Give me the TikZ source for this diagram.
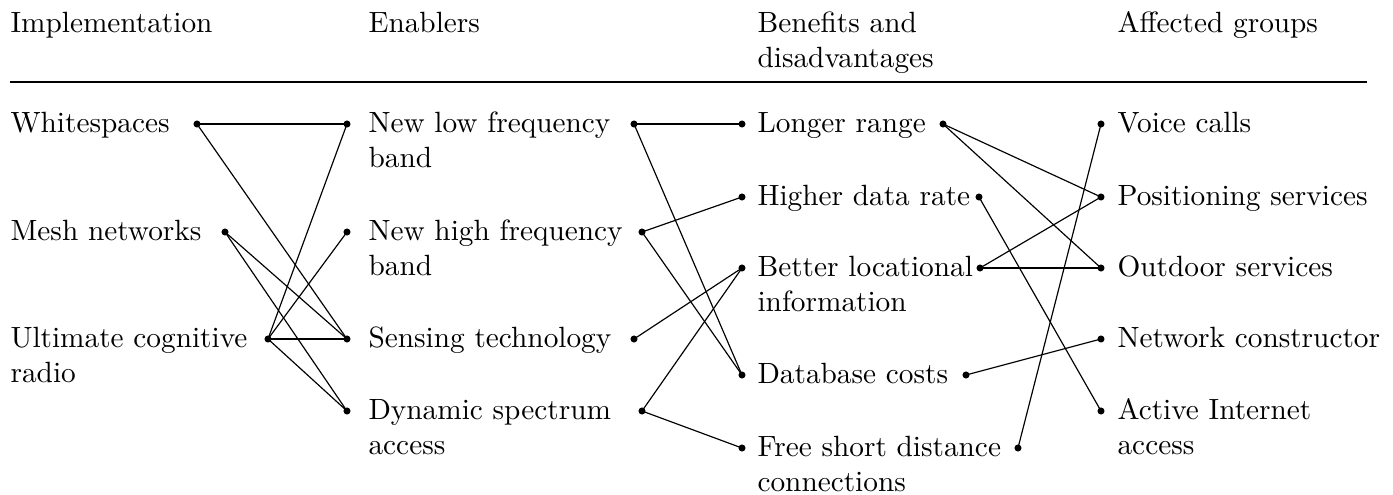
\documentclass[tikz,border=0pt]{standalone}
\begin{document}
\begin{tikzpicture}[x=0.3413pt,y=-0.3413pt,
  dot/.style={circle,fill=black,inner sep=0pt,minimum size=2.4pt},
  lbl/.style={anchor=base west,inner sep=0pt},
  conn/.style={line width=0.4pt},
  hrule/.style={line width=0.5pt}]
\useasboundingbox (0,0) rectangle (1393,495);
\newcommand{\cell}[1]{\begin{tabular}[t]{@{}l@{}}#1\end{tabular}}
% headers
\node[lbl] (h1) at (10,32) {Implementation};
\node[lbl] (h2) at (368,32) {Enablers};
\node[lbl] (h3) at (757,32) {\cell{Benefits and\\disadvantages}};
\node[lbl] (h4) at (1117,32) {Affected groups};
\coordinate (rl) at (10,82);
\coordinate (rr) at (1367,82);
\draw[hrule] (rl) -- (rr);
% column 1
\node[lbl] (t11) at (10,132.5) {Whitespaces};
\node[lbl] (t12) at (10,240.5) {Mesh networks};
\node[lbl] (t13) at (10,347.5) {\cell{Ultimate cognitive\\radio}};
\node[dot] (a1) at (197,124) {};
\node[dot] (a2) at (225,232) {};
\node[dot] (a3) at (268,339) {};
% column 2
\node[lbl] (t21) at (368,132.5) {\cell{New low frequency\\band}};
\node[lbl] (t22) at (368,240.5) {\cell{New high frequency\\band}};
\node[lbl] (t23) at (368,347.5) {Sensing technology};
\node[lbl] (t24) at (368,419.5) {\cell{Dynamic spectrum\\access}};
\node[dot] (bl1) at (347,124) {};
\node[dot] (bl2) at (347,232) {};
\node[dot] (bl3) at (347,339) {};
\node[dot] (bl4) at (347,411) {};
\node[dot] (br1) at (634,124) {};
\node[dot] (br2) at (642,232) {};
\node[dot] (br3) at (634,339) {};
\node[dot] (br4) at (642,411) {};
% column 3
\node[lbl] (t31) at (757,132.5) {Longer range};
\node[lbl] (t32) at (757,205.5) {Higher data rate};
\node[lbl] (t33) at (757,276.5) {\cell{Better locational\\information}};
\node[lbl] (t34) at (757,383.5) {Database costs};
\node[lbl] (t35) at (757,456.5) {\cell{Free short distance\\connections}};
\node[dot] (cl1) at (742,124) {};
\node[dot] (cl2) at (742,197) {};
\node[dot] (cl3) at (742,268) {};
\node[dot] (cl4) at (742,375) {};
\node[dot] (cl5) at (742,448) {};
\node[dot] (cr1) at (943,124) {};
\node[dot] (cr2) at (979,197) {};
\node[dot] (cr3) at (980,268) {};
\node[dot] (cr4) at (966,375) {};
\node[dot] (cr5) at (1018,448) {};
% column 4
\node[lbl] (t41) at (1117,132.5) {Voice calls};
\node[lbl] (t42) at (1117,205.5) {Positioning services};
\node[lbl] (t43) at (1117,276.5) {Outdoor services};
\node[lbl] (t44) at (1117,347.5) {Network constructor};
\node[lbl] (t45) at (1117,419.5) {\cell{Active Internet\\access}};
\node[dot] (d1) at (1101,124) {};
\node[dot] (d2) at (1101,197) {};
\node[dot] (d3) at (1101,268) {};
\node[dot] (d4) at (1101,339) {};
\node[dot] (d5) at (1101,411) {};
% connectors 1 -> 2
\draw[conn] (a1.center) -- (bl1.center);
\draw[conn] (a1.center) -- (bl3.center);
\draw[conn] (a2.center) -- (bl3.center);
\draw[conn] (a2.center) -- (bl4.center);
\draw[conn] (a3.center) -- (bl1.center);
\draw[conn] (a3.center) -- (bl2.center);
\draw[conn] (a3.center) -- (bl3.center);
\draw[conn] (a3.center) -- (bl4.center);
% connectors 2 -> 3
\draw[conn] (br1.center) -- (cl1.center);
\draw[conn] (br1.center) -- (cl4.center);
\draw[conn] (br2.center) -- (cl2.center);
\draw[conn] (br2.center) -- (cl4.center);
\draw[conn] (br3.center) -- (cl3.center);
\draw[conn] (br4.center) -- (cl3.center);
\draw[conn] (br4.center) -- (cl5.center);
% connectors 3 -> 4
\draw[conn] (cr1.center) -- (d2.center);
\draw[conn] (cr1.center) -- (d3.center);
\draw[conn] (cr2.center) -- (d5.center);
\draw[conn] (cr3.center) -- (d2.center);
\draw[conn] (cr3.center) -- (d3.center);
\draw[conn] (cr4.center) -- (d4.center);
\draw[conn] (cr5.center) -- (d1.center);
\end{tikzpicture}
\end{document}
